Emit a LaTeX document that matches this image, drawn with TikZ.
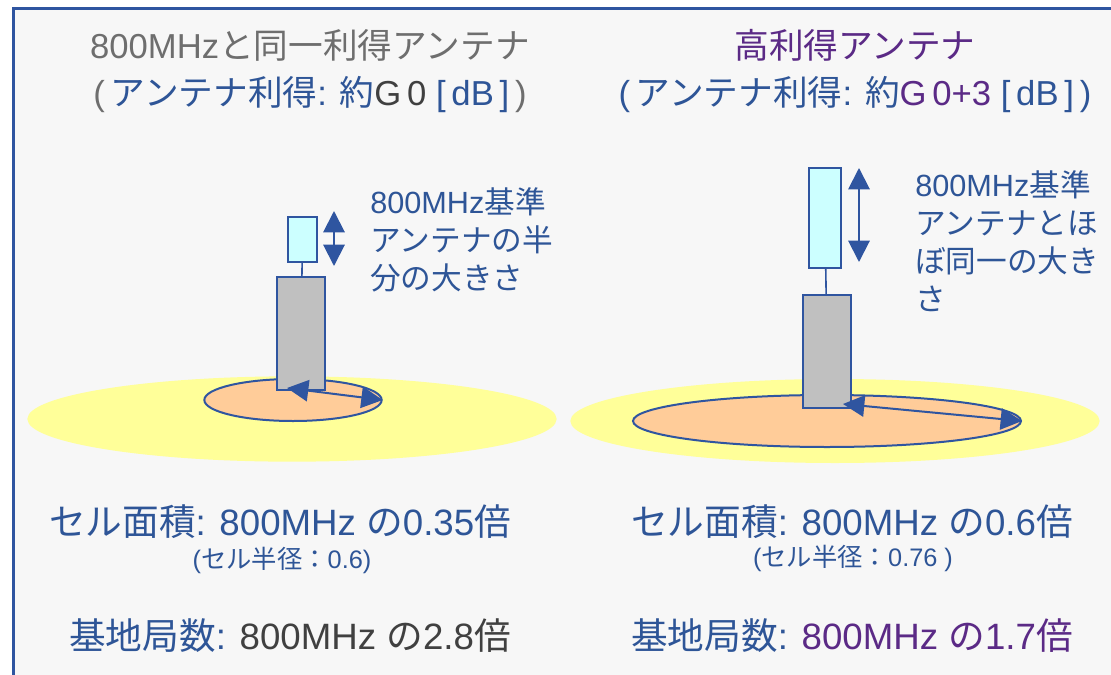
\documentclass[tikz,border=0pt]{standalone}
\usepackage{fontspec}
\setmainfont{Liberation Sans}
\newfontfamily\jpfont{Noto Sans CJK JP}
\usetikzlibrary{arrows.meta,shapes.geometric,positioning}
\definecolor{frame}{HTML}{2F55A0}
\definecolor{txtblue}{HTML}{2E5597}
\definecolor{txtgray}{HTML}{6E6E6E}
\definecolor{txtdark}{HTML}{404040}
\definecolor{txtpurple}{HTML}{5B2A86}
\definecolor{cellfar}{HTML}{FFFF99}
\definecolor{cellnear}{HTML}{FFCC99}
\definecolor{mast}{HTML}{C0C0C0}
\definecolor{elem}{HTML}{CCFFFF}
\definecolor{paper}{HTML}{F7F7F7}
\newcommand\jp[1]{{\jpfont#1}}
\newcommand\bl[1]{{\color{txtblue}#1}}
\newcommand\pu[1]{{\color{txtpurple}#1}}
\newcommand\dk[1]{{\color{txtdark}#1}}
\newcommand\gy[1]{{\color{txtgray}#1}}
\tikzset{
  head/.style={font=\fontsize{26}{30}\selectfont, inner sep=0pt},
  big/.style={font=\fontsize{27.5}{30}\selectfont, text=txtblue, inner sep=0pt},
  small/.style={font=\fontsize{19}{22}\selectfont, text=txtblue, inner sep=0pt},
  note/.style={font=\fontsize{23}{28.5}\selectfont, text=txtblue, align=left,
    anchor=north west, inner sep=0pt},
  reach/.style={ellipse, fill=cellfar, inner sep=0pt},
  cell/.style={ellipse, fill=cellnear, draw=frame, line width=1.5pt, inner sep=0pt},
  mastbox/.style={draw=frame, fill=mast, line width=1.5pt, inner sep=0pt},
  elembox/.style={draw=frame, fill=elem, line width=1.2pt, inner sep=0pt},
  sizearrow/.style={arrows={Triangle[length=16pt,width=16pt]-Triangle[length=16pt,width=16pt]},
    draw=frame, line width=1.5pt},
}
\begin{document}
\begin{tikzpicture}[x=0.75pt,y=-0.75pt]
    \useasboundingbox (0,0) rectangle (1111,675);
    \clip (0,0) rectangle (1111,675);
    \fill[white] (0,0) rectangle (1111,675);
    \draw[frame, fill=paper, line width=2pt] (13.5,8.5) rectangle (1140,700);

    % same gain as 800MHz
    \path
    (310,45) node[head] (titleL) {\gy{800MHz\jp{と同一利得アンテナ}}}
    (310,95) node[head] (gainL) {\gy{(\,}\bl{\jp{アンテナ利得}: \jp{約}}\dk{G\,0}\bl{ \;[\,dB\,]\,}\gy{)}}
    (292,419) node[reach, minimum width=397pt, minimum height=64pt] (reachL) {}
    (293,400) node[cell, minimum width=133pt, minimum height=31.5pt] (cellL) {}
    (301,333.5) node[mastbox, minimum width=36pt, minimum height=85pt] (mastL) {}
    (302.5,239.5) node[elembox, minimum width=22pt, minimum height=34pt] (elemL) {}
    (370,187) node[note] (noteL) {800MHz\jp{基準}\\\jp{アンテナの半}\\\jp{分の大きさ}}
    (280,522) node[big] (areaL) {\jp{セル面積}: 800MHz \jp{の}0.35\jp{倍}}
    (282,560) node[small] (radL) {(\jp{セル半径：}0.6)}
    (290,636) node[big] (siteL) {\jp{基地局数}: \dk{800MHz \jp{の}2.8\jp{倍}}}
    ;
    \coordinate (dimLtop) at (334,211);
    \coordinate (dimLbot) at (334,266);
    \coordinate (footL) at (287,388);
    \draw[frame, line width=1.2pt] (elemL) -- (mastL);
    \draw[sizearrow] (dimLtop) -- (dimLbot);
    \draw[sizearrow] (footL) -- (cellL.east);

    % high gain
    \path
    (855,45) node[head] (titleR) {\pu{\jp{高利得アンテナ}}}
    (855,95) node[head] (gainR) {\bl{(\,\jp{アンテナ利得}: \jp{約}}\pu{G\,0+3}\bl{ \;[\,dB\,]\,)}}
    (835,421) node[reach, minimum width=397pt, minimum height=63pt] (reachR) {}
    (827,421) node[cell, minimum width=291pt, minimum height=39pt] (cellR) {}
    (827,351.5) node[mastbox, minimum width=36pt, minimum height=85pt] (mastR) {}
    (825,218) node[elembox, minimum width=24pt, minimum height=75pt] (elemR) {}
    (915,170) node[note] (noteR) {800MHz\jp{基準}\\\jp{アンテナとほ}\\\jp{ぼ同一の大き}\\\jp{さ}}
    (852,522) node[big] (areaR) {\jp{セル面積}: 800MHz \jp{の}0.6\jp{倍}}
    (853,558) node[small] (radR) {(\jp{セル半径：}0.76 )}
    (852,636) node[big] (siteR) {\jp{基地局数}: \pu{800MHz \jp{の}1.7\jp{倍}}}
    ;
    \coordinate (dimRtop) at (859,168);
    \coordinate (dimRbot) at (859,262);
    \coordinate (footR) at (843,404);
    \draw[frame, line width=1.2pt] (elemR) -- (mastR);
    \draw[sizearrow] (dimRtop) -- (dimRbot);
    \draw[sizearrow] (footR) -- (cellR.east);
\end{tikzpicture}
\end{document}
